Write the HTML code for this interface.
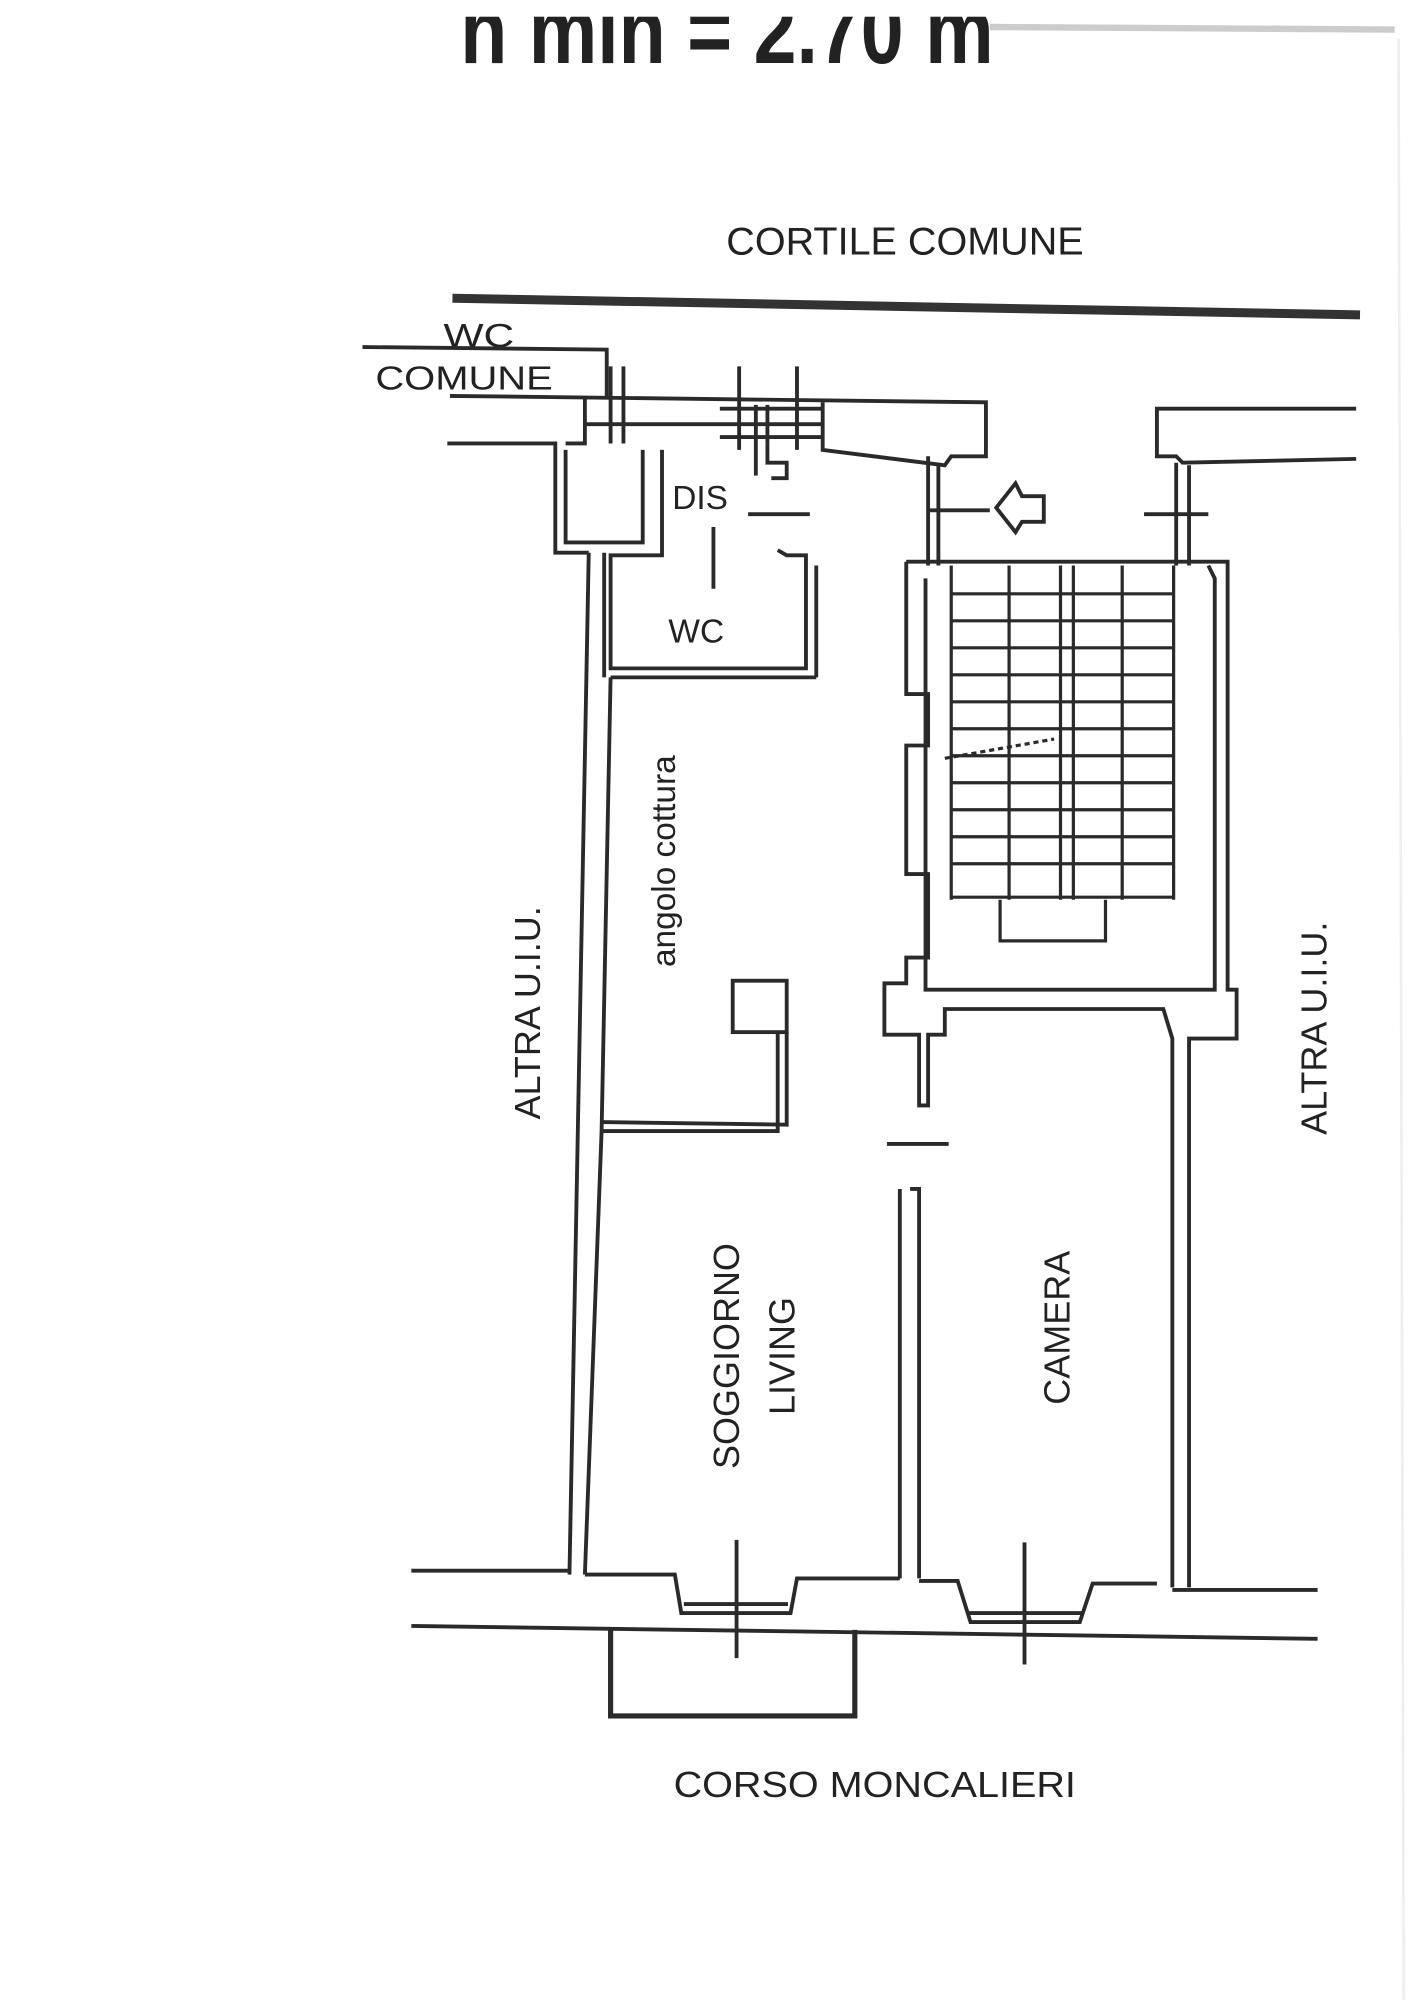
<!DOCTYPE html>
<html><head><meta charset="utf-8"><style>
html,body{margin:0;padding:0;background:#fff;}
svg{display:block;}
text{font-family:"Liberation Sans",sans-serif;fill:#222;}
</style></head><body>
<svg width="1414" height="2000" viewBox="0 0 1100 1556" preserveAspectRatio="none" xmlns="http://www.w3.org/2000/svg">
<rect width="1100" height="1556" fill="#fff"/>
<line x1="770" y1="21" x2="1085" y2="23" stroke="#ccc" stroke-width="5"/>
<line x1="1088" y1="30" x2="1092" y2="1556" stroke="#eee" stroke-width="2"/>
<text x="358" y="49" font-size="74" font-weight="bold" textLength="415" lengthAdjust="spacingAndGlyphs" fill="#333">h min = 2.70 m</text>
<rect x="340" y="0" width="450" height="13" fill="#fff"/>
<text x="565" y="198" font-size="30" textLength="278" lengthAdjust="spacingAndGlyphs">CORTILE COMUNE</text>
<line x1="352" y1="232" x2="1058" y2="245" stroke="#333" stroke-width="7"/>
<text x="345" y="270" font-size="26" textLength="55" lengthAdjust="spacingAndGlyphs">WC</text>
<text x="292" y="303" font-size="26" textLength="138" lengthAdjust="spacingAndGlyphs">COMUNE</text>
<g fill="none" stroke="#2a2a2a" stroke-width="3">
<polyline points="282,270 472,272 472,310"/>
<polyline points="350,308 767,313 767,355 740,355 735,362 640,350 640,313"/>
<line x1="455" y1="330" x2="640" y2="330"/>
<line x1="475" y1="285" x2="475" y2="345"/><line x1="485" y1="285" x2="485" y2="345"/>
<line x1="575" y1="285" x2="575" y2="350"/><line x1="620" y1="285" x2="620" y2="350"/>
<line x1="560" y1="318" x2="640" y2="318"/><line x1="560" y1="340" x2="640" y2="340"/>
<line x1="588" y1="315" x2="588" y2="370"/><line x1="597" y1="315" x2="597" y2="345"/>
<polyline points="597,345 597,360 612,360 612,372 600,372"/>
<polyline points="348,345 432,345 432,430 458,430"/>
<polyline points="440,350 440,422 500,422 500,350"/>
<polyline points="455,310 455,345 440,345"/>
<polyline points="515,350 515,432 475,432 475,520 627,520 627,432 612,432 605,428"/>
<line x1="475" y1="527" x2="635" y2="527"/>
<line x1="635" y1="440" x2="635" y2="527"/>
<line x1="582" y1="400" x2="630" y2="400"/>
<line x1="555" y1="410" x2="555" y2="458"/>
<!-- unit left wall -->
<polyline points="470,430 470,527"/>
<polyline points="475,527 468,880 455,1225"/>
<line x1="458" y1="430" x2="443" y2="1225"/>
<polyline points="320,1222 443,1222"/>
<!-- kitchen -->
<rect x="570" y="763" width="42" height="40"/>
<polyline points="605,803 605,880 468,880"/>
<polyline points="612,803 612,875 468,873"/>
<!-- corridor walls -->
<polyline points="722,355 722,440"/><polyline points="730,362 730,440"/>
<line x1="722" y1="397" x2="770" y2="397"/>
<path d="M775,395 L790,376 L795,386 L812,386 L812,406 L795,406 L790,414 Z"/>
<polyline points="705,437 955,437 955,770 962,770 962,808 925,808 925,1235"/>
<polyline points="705,437 705,540 722,540 722,580 705,580 705,680 722,680 722,745 705,745 705,765 688,765 688,805 715,805 715,860 722,860 722,805 735,805 735,785 905,785 912,808 912,1235"/>
<polyline points="720,450 720,770 945,770 945,450 940,440"/>
<!-- stairs -->
<g stroke-width="2.5">
<line x1="740" y1="440" x2="740" y2="700"/><line x1="785" y1="440" x2="785" y2="700"/>
<line x1="825" y1="440" x2="825" y2="700"/><line x1="835" y1="440" x2="835" y2="700"/>
<line x1="873" y1="440" x2="873" y2="700"/><line x1="913" y1="440" x2="913" y2="700"/>
<line x1="740" y1="462" x2="913" y2="462"/><line x1="740" y1="483" x2="913" y2="483"/>
<line x1="740" y1="504" x2="913" y2="504"/><line x1="740" y1="525" x2="913" y2="525"/>
<line x1="740" y1="546" x2="913" y2="546"/><line x1="740" y1="567" x2="913" y2="567"/>
<line x1="740" y1="588" x2="913" y2="588"/><line x1="740" y1="609" x2="913" y2="609"/>
<line x1="740" y1="630" x2="913" y2="630"/><line x1="740" y1="651" x2="913" y2="651"/>
<line x1="740" y1="672" x2="913" y2="672"/><line x1="740" y1="698" x2="913" y2="698"/>
<polyline points="778,700 778,732 860,732 860,700"/>
<line x1="735" y1="590" x2="820" y2="575" stroke-dasharray="4,3"/>
</g>
<!-- right top -->
<polyline points="1055,318 900,318 900,355 915,355 920,360 1055,357"/>
<line x1="915" y1="360" x2="915" y2="440"/><line x1="925" y1="362" x2="925" y2="440"/>
<line x1="890" y1="400" x2="940" y2="400"/>
<!-- door between living/camera -->
<line x1="690" y1="890" x2="738" y2="890"/>
<polyline points="708,925 715,925 715,1228"/>
<line x1="700" y1="925" x2="700" y2="1228"/>
<!-- bottom -->
<polyline points="455,1225 525,1225 530,1255 615,1255 620,1228 700,1228"/>
<polyline points="715,1230 745,1230 755,1262 840,1262 850,1232 900,1232"/>
<line x1="532" y1="1248" x2="613" y2="1248"/><line x1="752" y1="1255" x2="842" y2="1255"/>
<line x1="912" y1="1237" x2="1025" y2="1237"/>
<line x1="320" y1="1265" x2="1025" y2="1275"/>
<polyline points="475,1268 475,1335 665,1335 665,1268" stroke-width="4"/>
<line x1="573" y1="1198" x2="573" y2="1290"/>
<line x1="797" y1="1200" x2="797" y2="1295"/>
</g>
<text transform="translate(525,670) rotate(-90)" font-size="26" text-anchor="middle">angolo cottura</text>
<text transform="translate(420,788) rotate(-90)" font-size="28" text-anchor="middle">ALTRA U.I.U.</text>
<text transform="translate(1032,800) rotate(-90)" font-size="28" text-anchor="middle">ALTRA U.I.U.</text>
<text transform="translate(575,1055) rotate(-90)" font-size="28" text-anchor="middle">SOGGIORNO</text>
<text transform="translate(618,1055) rotate(-90)" font-size="28" text-anchor="middle">LIVING</text>
<text transform="translate(832,1033) rotate(-90)" font-size="28" text-anchor="middle">CAMERA</text>
<text x="523" y="396" font-size="26">DIS</text>
<text x="520" y="500" font-size="26">WC</text>
<text x="524" y="1398" font-size="28" textLength="313" lengthAdjust="spacingAndGlyphs">CORSO MONCALIERI</text>
</svg>
</body></html>
